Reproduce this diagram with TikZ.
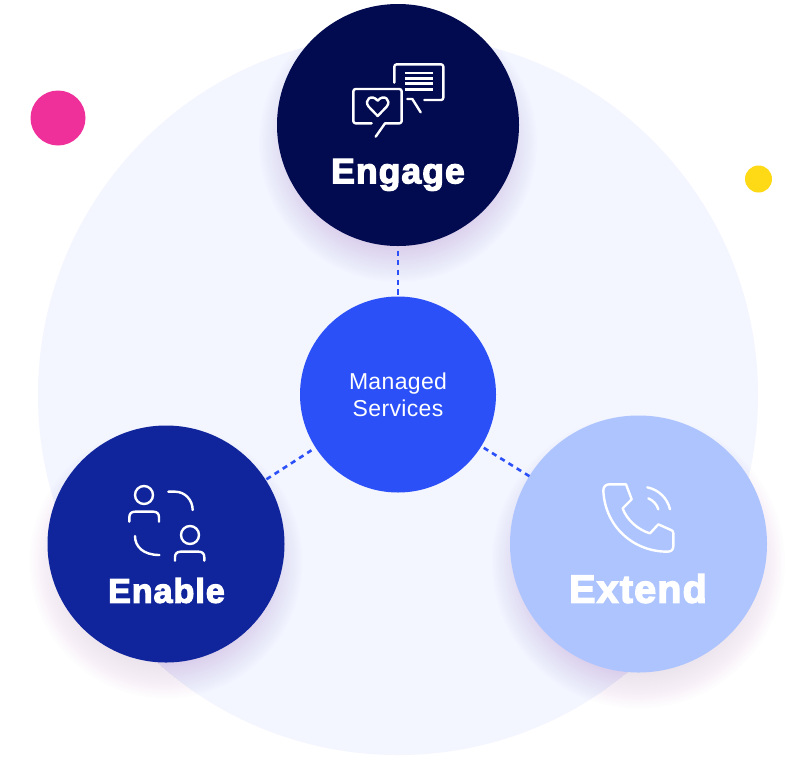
\documentclass[tikz,border=0pt]{standalone}
\usepackage{fontspec}
\setmainfont{Liberation Sans}[LetterSpace=1.5]
\newfontfamily\headfont{Liberation Sans}[BoldFeatures={FakeBold=3.5,LetterSpace=3}]
\definecolor{bgc}{HTML}{F3F5FF}
\definecolor{engc}{HTML}{020A50}
\definecolor{manc}{HTML}{2B50F8}
\definecolor{enac}{HTML}{10249C}
\definecolor{extc}{HTML}{ADC4FF}
\definecolor{pinkc}{HTML}{F0309A}
\definecolor{yelc}{HTML}{FDD916}
\definecolor{shc}{HTML}{6A3FB0}
\definecolor{shout}{HTML}{D070E0}
\tikzset{
  disc/.style={circle,inner sep=0pt,outer sep=0pt,draw=none},
  head/.style={text=white,inner sep=0pt,anchor=base,font=\headfont\bfseries\fontsize{#1}{#1}\selectfont},
  link/.style={draw=manc,line width=2.6pt,dash pattern=on 5.2pt off 4.5pt},
  icon/.style={draw=white,line width=2.4pt,line cap=round,line join=round,fill=none}
}
\newcommand{\softshadow}[4]{%
  \foreach \k in {0,...,19}{\fill[#4,opacity=0.0085] (#1,#2) circle ({#3+18-1.9*\k});}}
\begin{document}
\begin{tikzpicture}[x=1pt,y=-1pt]
\useasboundingbox (0,0) rectangle (800,780);
\fill[white] (0,0) rectangle (800,780);
\softshadow{166}{562}{118.5}{shout}
\softshadow{638.5}{562}{128.5}{shout}
\node[disc,fill=bgc,minimum size=720pt] (bg) at (398,395) {};
\begin{scope}
\clip (398,395) circle (360);
\softshadow{398}{143}{121}{shc}
\softshadow{166}{562}{118.5}{shc}
\softshadow{638.5}{562}{128.5}{shc}
\end{scope}
\node[disc,fill=pinkc,minimum size=55pt] (pink) at (58,118) {};
\node[disc,fill=yelc,minimum size=27pt] (yellow) at (758.5,179) {};
\node[disc,fill=engc,minimum size=242pt] (engage) at (398,125) {};
\node[disc,fill=manc,minimum size=196pt] (managed) at (398,394.5) {};
\node[disc,fill=enac,minimum size=237pt] (enable) at (166,544) {};
\node[disc,fill=extc,minimum size=257pt] (extend) at (638.5,544) {};
\draw[link,shorten <=4.5pt,shorten >=1.5pt] (engage) -- (managed);
\draw[link,shorten <=1pt,shorten >=5pt] (enable) -- (managed);
\draw[link,shorten <=3pt,shorten >=0pt] (managed) -- (extend);
\node[text=white,align=center,inner sep=0pt,font=\fontsize{23}{26.5}\selectfont] (mantext) at (398,395) {Managed\\Services};
\node[head=35.5] (engtext) at (398,183.3) {Engage};
\node[head=34] (enatext) at (166.5,602.7) {Enable};
\node[head=39.5] (exttext) at (638,602.7) {Extend};
% chat icon
\begin{scope}[shift={(330,50)},scale=1/3]
\draw[icon,rounded corners=2.3pt] (193,98) -- (193,43) -- (340,43) -- (340,150) -- (283,150);
\draw[icon] (232,147) -- (247,147) -- (272,187);
\foreach \yy in {69,85,101,118} \draw[icon,line cap=butt] (225,\yy) -- (310,\yy);
\draw[icon,rounded corners=2.3pt] (125,220) -- (70,220) -- (70,117) -- (215,117) -- (215,220) -- (165,220);
\draw[icon] (165,220) -- (137,260);
\draw[icon] (143,198) -- (116,170) .. controls (100,150) and (125,130) .. (143,152) .. controls (161,130) and (186,150) .. (170,170) -- cycle;
\end{scope}
% people icon
\begin{scope}[shift={(110,470)},scale=1/3]
\draw[icon] (102,75) circle (27);
\draw[icon] (58,155) -- (58,142) .. controls (58,131) and (64,125) .. (75,125) -- (130,125) .. controls (141,125) and (147,131) .. (147,142) -- (147,155);
\draw[icon] (175,65) -- (195,65) .. controls (225,65) and (248,90) .. (248,120);
\draw[icon] (75,198) .. controls (75,230) and (100,255) .. (148,255);
\draw[icon] (240,195) circle (27);
\draw[icon] (195,272) -- (195,262) .. controls (195,251) and (201,245) .. (212,245) -- (266,245) .. controls (277,245) and (283,251) .. (283,262) -- (283,272);
\end{scope}
% phone icon
\begin{scope}[shift={(590,470)},scale=1/3]
\draw[icon] (108,43) -- (58,43) .. controls (47,43) and (40,50) .. (40,62) .. controls (45,170) and (130,245) .. (232,245) .. controls (243,245) and (250,240) .. (250,228) -- (250,190) .. controls (250,184) and (247,181) .. (243,180) -- (205,163) -- (180,190) .. controls (145,180) and (110,150) .. (98,115) -- (125,88) -- (108,43) -- cycle;
\draw[icon] (172,52) .. controls (208,60) and (232,85) .. (240,118);
\draw[icon] (175,85) .. controls (190,92) and (200,102) .. (205,118);
\end{scope}
\end{tikzpicture}
\end{document}
